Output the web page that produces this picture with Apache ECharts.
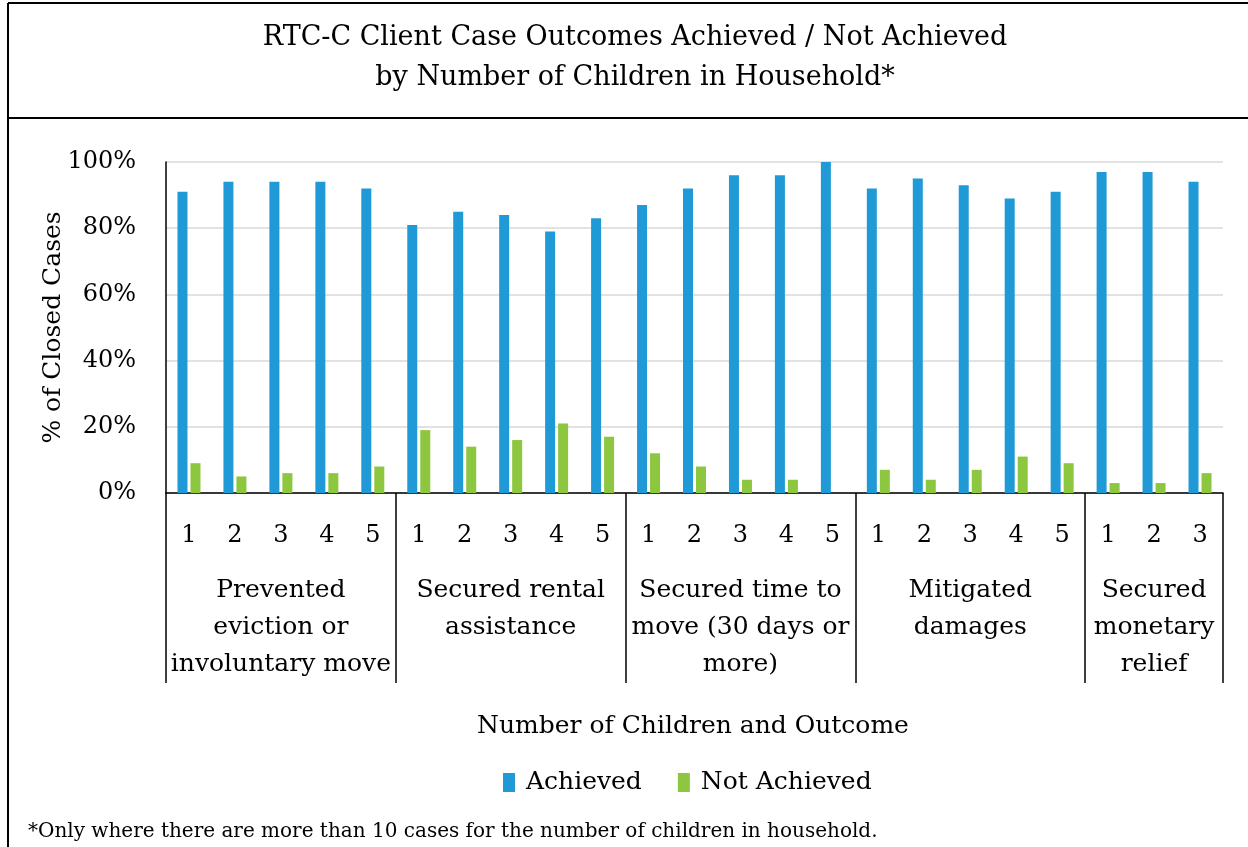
<!DOCTYPE html>
<html>
<head>
<meta charset="utf-8">
<script src="https://cdn.jsdelivr.net/npm/echarts@6/dist/echarts.min.js"></script>
<style>
  html, body { margin: 0; padding: 0; background: #fff; }
  #chart { width: 1248px; height: 847px; }
</style>
</head>
<body>
<div id="chart"></div>
<script>
// number of children per bar (x categories)
var childCounts = ['1','2','3','4','5','1','2','3','4','5','1','2','3','4','5','1','2','3','4','5','1','2','3'];
// outcome groups
var groupLabels = [
  'Prevented\neviction or\ninvoluntary move',
  'Secured rental\nassistance',
  'Secured time to\nmove (30 days or\nmore)',
  'Mitigated\ndamages',
  'Secured\nmonetary\nrelief'
];
var groupStarts = [0, 5, 10, 15, 20];
var groupMids = [2, 7, 12, 17, 21];
// % of closed cases
var achieved    = [91,94,94,94,92, 81,85,84,79,83, 87,92,96,96,100, 92,95,93,89,91, 97,97,94];
var notAchieved = [9,5,6,6,8, 19,14,16,21,17, 12,8,4,4,0, 7,4,7,11,9, 3,3,6];
var yTicks = [0, 20, 40, 60, 80, 100];

var FONT = 'DejaVu Serif';

// second axis only carries the group names, under the middle bar of each group
var groupAxisData = childCounts.map(function (c, i) {
  var k = groupMids.indexOf(i);
  return k >= 0 ? groupLabels[k] : '';
});

var chart = echarts.init(document.getElementById('chart'));

chart.setOption({
  animation: false,
  textStyle: { fontFamily: FONT, color: '#000' },
  title: [
    {
      text: 'RTC-C Client Case Outcomes Achieved / Not Achieved\nby Number of Children in Household*',
      left: 630, top: 13, textAlign: 'center',
      textStyle: { fontFamily: FONT, fontSize: 27, fontWeight: 'normal', color: '#000', lineHeight: 40 }
    },
    {
      text: 'Number of Children and Outcome',
      left: 688, top: 709, textAlign: 'center',
      textStyle: { fontFamily: FONT, fontSize: 25, fontWeight: 'normal', color: '#000' }
    },
    {
      text: '*Only where there are more than 10 cases for the number of children in household.',
      left: 23, top: 817,
      textStyle: { fontFamily: FONT, fontSize: 20, fontWeight: 'normal', color: '#000' }
    }
  ],
  legend: {
    data: ['Achieved', 'Not Achieved'],
    left: 498, top: 765,
    itemWidth: 12, itemHeight: 19, itemGap: 36,
    icon: 'rect',
    textStyle: { fontFamily: FONT, fontSize: 25, color: '#000', padding: [0, 0, 0, 6] }
  },
  grid: { left: 166, right: 25, top: 162, bottom: 354, containLabel: false },
  xAxis: [
    {
      type: 'category',
      data: childCounts,
      position: 'bottom',
      axisLine: { lineStyle: { color: '#000', width: 1.5 } },
      axisTick: {
        show: true,
        interval: function (i) { return groupStarts.indexOf(i) >= 0; },
        length: 190,
        lineStyle: { color: '#000', width: 1.5 }
      },
      axisLabel: { interval: 0, fontFamily: FONT, fontSize: 24, color: '#000', margin: 31 }
    },
    {
      type: 'category',
      data: groupAxisData,
      position: 'bottom',
      axisLine: { show: false },
      axisTick: { show: false },
      axisLabel: {
        interval: 0, fontFamily: FONT, fontSize: 25, color: '#000',
        margin: 79, lineHeight: 37, align: 'center'
      }
    }
  ],
  yAxis: {
    type: 'value',
    min: 0, max: 100, interval: 20,
    name: '% of Closed Cases',
    nameLocation: 'middle',
    nameGap: 100,
    nameMoveOverlap: false,
    nameTextStyle: { fontFamily: FONT, fontSize: 25, color: '#000' },
    axisLine: { show: true, lineStyle: { color: '#000', width: 1.5 } },
    axisTick: { show: false },
    axisLabel: {
      fontFamily: FONT, fontSize: 24, color: '#000', margin: 30,
      formatter: function (v) { return yTicks.indexOf(v) >= 0 ? v + '%' : ''; }
    },
    splitLine: { lineStyle: { color: '#d9d9d9', width: 1.5 } }
  },
  series: [
    {
      name: 'Achieved', type: 'bar', xAxisIndex: 0,
      data: achieved, barWidth: 10, barGap: '30%',
      itemStyle: { color: '#1f9ad7' }
    },
    {
      name: 'Not Achieved', type: 'bar', xAxisIndex: 0,
      data: notAchieved, barWidth: 10, barGap: '30%',
      itemStyle: { color: '#8dc63f' }
    }
  ],
  graphic: [
    {
      type: 'line', silent: true,
      shape: { x1: 8, y1: 3, x2: 1248, y2: 3 },
      style: { stroke: '#000', lineWidth: 2 }
    },
    {
      type: 'line', silent: true,
      shape: { x1: 8, y1: 3, x2: 8, y2: 847 },
      style: { stroke: '#000', lineWidth: 2 }
    },
    {
      type: 'line', silent: true,
      shape: { x1: 8, y1: 118, x2: 1248, y2: 118 },
      style: { stroke: '#000', lineWidth: 2 }
    }
  ]
});
</script>
</body>
</html>
